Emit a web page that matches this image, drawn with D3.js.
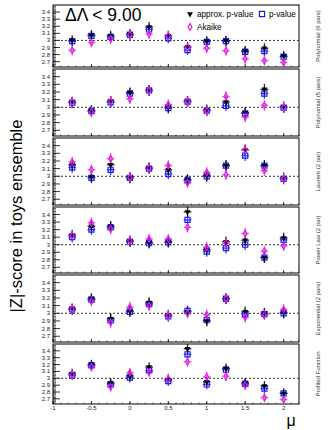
<!DOCTYPE html>
<html>
<head>
<meta charset="utf-8">
<script src="https://cdn.jsdelivr.net/npm/d3@7"></script>
<style>
  body { margin: 0; background: #fff; }
  svg { display: block; font-family: "Liberation Sans", Arial, sans-serif; }
</style>
</head>
<body>
<svg width="332" height="430"></svg>
<script>
// ---- data ----
const mu = [-0.75, -0.5, -0.25, 0, 0.25, 0.5, 0.75, 1, 1.25, 1.5, 1.75, 2];

const models = ["Polynomial (6 pars)", "Polynomial (5 pars)", "Laurent (2 par)",
                "Power Law (2 par)", "Exponential (2 pars)", "Profiled Function"];

// approx. p-value, one row per panel
const approxP = [
  [3.00, 3.075, 3.065, 3.09, 3.19, 3.065, 2.91, 2.99, 2.995, 2.85, 2.89, 2.78],
  [3.065, 2.957, 3.078, 3.19, 3.22, 3.00, 3.078, 2.965, 3.07, 2.93, 3.235, 3.005],
  [3.15, 2.99, 3.15, 2.98, 3.11, 3.085, 2.955, 3.01, 3.14, 3.345, 3.14, 2.98],
  [3.13, 3.245, 3.245, 3.045, 3.03, 3.04, 3.435, 2.935, 3.04, 3.06, 2.83, 3.09],
  [3.055, 3.19, 2.93, 3.03, 3.14, 2.975, 3.02, 2.90, 3.19, 3.02, 3.00, 3.01],
  [3.07, 3.20, 2.93, 3.035, 3.165, 2.98, 3.43, 2.95, 3.145, 2.935, 2.89, 2.78]
];

// p-value
const pValue = [
  [2.99, 3.065, 3.05, 3.08, 3.155, 3.03, 2.865, 2.98, 2.99, 2.84, 2.85, 2.77],
  [3.06, 2.95, 3.065, 3.18, 3.22, 2.99, 3.075, 2.957, 3.02, 2.92, 3.18, 2.995],
  [3.115, 2.98, 3.085, 2.98, 3.10, 3.03, 2.95, 3.00, 3.14, 3.27, 3.14, 2.965],
  [3.10, 3.20, 3.23, 3.04, 3.02, 3.03, 3.33, 2.91, 2.955, 3.00, 2.83, 3.065],
  [3.05, 3.18, 2.91, 3.02, 3.12, 2.96, 3.03, 2.91, 3.19, 2.99, 2.99, 3.00],
  [3.045, 3.19, 2.915, 3.01, 3.115, 2.96, 3.35, 2.91, 3.125, 2.92, 2.85, 2.78]
];

// Akaike
const akaike = [
  [2.86, 2.97, 3.02, 3.08, 3.09, 3.065, 2.905, 2.89, 2.855, 2.74, 2.715, 2.69],
  [3.07, 2.94, 3.078, 3.11, 3.22, 3.035, 3.078, 2.957, 3.14, 2.875, 3.025, 3.00],
  [3.185, 3.085, 3.23, 2.985, 3.11, 3.14, 2.915, 3.05, 3.02, 3.345, 3.075, 2.97],
  [3.12, 3.29, 3.21, 3.055, 3.075, 3.075, 3.23, 2.965, 3.02, 3.15, 2.915, 2.985],
  [3.06, 3.16, 2.88, 3.08, 3.10, 2.97, 3.00, 2.98, 3.19, 2.95, 2.98, 3.05],
  [3.055, 3.165, 2.875, 3.08, 3.09, 2.995, 3.24, 3.02, 3.03, 2.90, 2.72, 2.69]
];

const seriesNames = ["approx. p-value", "p-value", "Akaike"];
const yErr = [0.07, 0.07, 0.07];   // vertical error per series
const xErr = 0.05;                 // half bin width in mu

const xTicks = [-1, -0.5, 0, 0.5, 1, 1.5, 2];
const yTicks = [2.7, 2.8, 2.9, 3.0, 3.1, 3.2, 3.3, 3.4];

// ---- layout ----
const svg = d3.select("svg");
const left = 53, right = 299;
const panelTop = [5, 69, 138, 207, 275, 344];
const panelBottom = [67, 136, 205, 273, 342, 404];

const colors = ["#000000", "#1a1aff", "#e020e0"];

const x = d3.scaleLinear().domain([-1, 2.2]).range([left, right]);

const tri = d3.symbol().type(d3.symbolTriangle).size(15);
const sq = d3.symbol().type(d3.symbolSquare).size(26);
const dia = d3.symbol().type(d3.symbolDiamond).size(13);

function drawMarker(g, k, px, py) {
  if (k == 0) {
    g.append("path").attr("d", tri())
      .attr("transform", `translate(${px},${py}) rotate(180)`)
      .attr("fill", colors[0]);
  } else if (k == 1) {
    g.append("path").attr("d", sq())
      .attr("transform", `translate(${px},${py})`)
      .attr("fill", "none").attr("stroke", colors[1]).attr("stroke-width", 1.2);
  } else {
    g.append("path").attr("d", dia())
      .attr("transform", `translate(${px},${py})`)
      .attr("fill", "none").attr("stroke", colors[2]).attr("stroke-width", 1.2);
  }
}

const allSeries = [approxP, pValue, akaike];
const drawOrder = [1, 0, 2];

models.forEach((name, p) => {
  const y = d3.scaleLinear().domain([2.625, 3.5]).range([panelBottom[p], panelTop[p]]);
  const g = svg.append("g");

  // frame
  g.append("rect")
    .attr("x", left).attr("y", panelTop[p])
    .attr("width", right - left).attr("height", panelBottom[p] - panelTop[p])
    .attr("fill", "none").attr("stroke", "#000").attr("stroke-width", 1);

  // y ticks: minor every 0.02, major every 0.1 (inside)
  const minor = d3.range(2.64, 3.49, 0.02);
  g.selectAll(".ymin").data(minor).enter().append("line")
    .attr("x1", left).attr("x2", left + 3)
    .attr("y1", d => y(d)).attr("y2", d => y(d))
    .attr("stroke", "#000").attr("stroke-width", 0.6);
  g.selectAll(".ymaj").data(yTicks).enter().append("line")
    .attr("x1", left).attr("x2", left + 7)
    .attr("y1", d => y(d)).attr("y2", d => y(d))
    .attr("stroke", "#000").attr("stroke-width", 0.8);
  g.selectAll(".ylab").data(yTicks).enter().append("text")
    .attr("x", left - 3).attr("y", d => y(d) + 2)
    .attr("text-anchor", "end").attr("font-size", 6).attr("fill", "#222")
    .text(d => +d.toFixed(1));

  // x ticks along the bottom of every panel
  const xmin = d3.range(-1, 2.21, 0.1);
  g.selectAll(".xmin").data(xmin).enter().append("line")
    .attr("x1", d => x(d)).attr("x2", d => x(d))
    .attr("y1", panelBottom[p]).attr("y2", panelBottom[p] - 1.5)
    .attr("stroke", "#000").attr("stroke-width", 0.6);
  g.selectAll(".xmaj").data(xTicks).enter().append("line")
    .attr("x1", d => x(d)).attr("x2", d => x(d))
    .attr("y1", panelBottom[p]).attr("y2", panelBottom[p] - 3)
    .attr("stroke", "#000").attr("stroke-width", 0.8);

  // reference line at 3
  g.append("line")
    .attr("x1", left).attr("x2", right)
    .attr("y1", y(3)).attr("y2", y(3))
    .attr("stroke", "#333").attr("stroke-width", 1).attr("stroke-dasharray", "2,2");

  // error bars
  drawOrder.forEach(k => {
    const vals = allSeries[k][p];
    const eb = g.append("g").attr("stroke", colors[k]).attr("stroke-width", 1.3)
      .attr("opacity", k == 2 ? 0.75 : 0.85);
    vals.forEach((v, i) => {
      eb.append("line")
        .attr("x1", x(mu[i] - xErr)).attr("x2", x(mu[i] + xErr))
        .attr("y1", y(v)).attr("y2", y(v));
      eb.append("line")
        .attr("x1", x(mu[i])).attr("x2", x(mu[i]))
        .attr("y1", y(v - yErr[k])).attr("y2", y(v + yErr[k]));
    });
  });

  // markers
  drawOrder.forEach(k => {
    allSeries[k][p].forEach((v, i) => drawMarker(g, k, x(mu[i]), y(v)));
  });

  // model name on the right
  const cy = (panelTop[p] + panelBottom[p]) / 2;
  svg.append("text")
    .attr("transform", `translate(320,${cy}) rotate(-90)`)
    .attr("text-anchor", "middle").attr("font-size", 6).attr("fill", "#333")
    .text(name);
});

// x tick labels under the last panel
svg.selectAll(".xlab").data(xTicks).enter().append("text")
  .attr("x", d => x(d)).attr("y", 410)
  .attr("text-anchor", "middle").attr("font-size", 6).attr("fill", "#222")
  .text(d => d);

// axis titles
svg.append("text")
  .attr("x", 291).attr("y", 426)
  .attr("text-anchor", "middle").attr("font-size", 16)
  .text("μ");

svg.append("text")
  .attr("transform", "translate(22,216) rotate(-90)")
  .attr("text-anchor", "middle").attr("font-size", 16.5)
  .text("|Z|-score in toys ensemble");

// legend in top panel
svg.append("text")
  .attr("x", 65).attr("y", 21)
  .attr("font-size", 17.5)
  .text("ΔΛ < 9.00");

const legend = svg.append("g");
const legPos = [[190, 14], [262, 14], [190, 27]];
seriesNames.forEach((s, k) => {
  drawMarker(legend, k, legPos[k][0], legPos[k][1]);
  legend.append("text")
    .attr("x", legPos[k][0] + 7).attr("y", legPos[k][1] + 3)
    .attr("font-size", 8.2)
    .text(s);
});
</script>
</body>
</html>
